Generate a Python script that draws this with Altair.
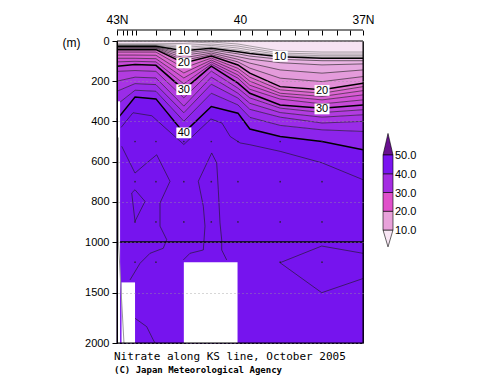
import altair as alt
import pandas as pd

# ---------------- data ----------------
station_lat = [43.0, 42.56, 42.05, 41.37, 40.70, 40.05, 39.76, 39.02, 38.0, 37.0]

# depth (m) of each isoline at every station
iso_2 = [14, 14, 14, 12, 5, 15, 25, 50, 55, 55]
iso_4 = [18, 18, 18, 22, 15, 25, 35, 60, 65, 65]
iso_6 = [21, 21, 21, 32, 22, 35, 45, 68, 73, 73]
iso_8 = [24, 24, 24, 40, 30, 45, 55, 74, 80, 80]
iso_10 = [26, 26, 26, 48, 36, 53, 62, 78, 86, 86]
iso_12 = [30, 30, 30, 60, 44, 64, 75, 91, 98, 98]
iso_14 = [33, 33, 33, 71, 52, 78, 90, 108, 119, 114]
iso_16 = [36, 36, 36, 84, 60, 91, 110, 144, 160, 144]
iso_18 = [40, 40, 40, 96, 68, 104, 135, 185, 202, 177]
iso_20 = [43, 43, 43, 109, 75, 119, 160, 227, 243, 210]
iso_22 = [55, 55, 55, 134, 85, 136, 180, 243, 260, 227]
iso_24 = [70, 70, 71, 159, 95, 152, 200, 260, 276, 247]
iso_26 = [86, 86, 88, 184, 105, 169, 220, 273, 293, 268]
iso_28 = [104, 101, 104, 213, 115, 185, 240, 289, 313, 293]
iso_30 = [126, 117, 121, 242, 125, 210, 260, 318, 334, 318]
iso_32 = [151, 147, 151, 283, 150, 235, 283, 334, 356, 342]
iso_34 = [200, 180, 184, 324, 180, 260, 310, 356, 379, 367]
iso_36 = [250, 212, 217, 357, 215, 284, 340, 379, 408, 400]
iso_38 = [316, 245, 250, 399, 260, 318, 380, 420, 442, 450]
iso_40 = [390, 279, 288, 457, 326, 359, 438, 475, 500, 541]

# deep thin contours (lat, depth)
deep_a_lat = [42.90, 42.61, 42.15, 41.83, 41.37, 40.71, 40.44, 40.24, 40.0, 39.76, 39.02, 38.0, 37.0]
deep_a_dep = [430, 357, 372, 431, 515, 388, 408, 475, 507, 516, 549, 606, 690]
deep_b_lat = [42.885, 42.561, 42.276, 42.032, 41.707, 41.951, 41.951, 41.788, 41.871, 42.195, 42.439, 42.683]
deep_b_dep = [524, 657, 607, 566, 698, 806, 921, 988, 1062, 1112, 1211, 1376]
deep_c_lat = [42.641, 42.561, 42.317, 42.561, 42.641]
deep_c_dep = [756, 740, 798, 897, 756]
deep_d_lat = [41.383, 41.22, 40.895, 40.854, 40.895, 41.017, 40.69, 40.568, 40.529, 40.488, 40.446, 40.446, 40.324]
deep_d_dep = [1178, 1112, 1079, 921, 822, 698, 557, 607, 740, 905, 990, 1079, 1178]
deep_e_lat = [37.0, 38.007, 39.024, 38.007, 37.0]
deep_e_dep = [1112, 1040, 1205, 1502, 1362]
deep_f_lat = [42.561, 42.276, 42.115, 42.073]
deep_f_dep = [1755, 1838, 1970, 2000]

# missing-data (white) areas
gap_lat0 = [43.0, 42.89, 41.37]
gap_lat1 = [42.925, 42.56, 40.06]
gap_top = [300, 1400, 1200]
gap_bot = [2000, 2000, 2000]

# bottom line near 43N
bathy_lat = [42.968, 42.968, 42.83]
bathy_dep = [480, 990, 2000]

# sample points
dot_lat = [42.56, 42.05, 41.37, 40.70, 40.05, 39.02, 38.0]
dot_dep = [500, 700, 900]
dot2_lat = [42.56, 42.05, 39.02, 38.0]
dot2_dep = [1200]

# contour labels
lbl_lat = [41.37, 39.02, 41.37, 38.0, 41.37, 38.0, 41.37]
lbl_dep = [46, 76, 109, 246, 242, 338, 457]
lbl_txt = ["10", "10", "20", "20", "30", "30", "40"]

# colour bar
leg_lo = [10, 20, 30, 40]
leg_hi = [20, 30, 40, 50]
leg_vals = [50, 40, 30, 20, 10]

# axis ticks
tick_lats = [43.0, 42.85, 42.75, 42.63, 42.54, 42.05, 41.71, 41.37, 41.05, 40.71,
             40.0, 39.71, 39.34, 39.02, 38.66, 38.34, 38.0, 37.63, 37.32, 37.0]
depth_ticks = [0, 200, 400, 600, 800, 1000, 1500, 2000]

# plot frame (domain corners)
frame_lat = [43.0, 37.0]
frame_dep = [0, 2000]

# ---------------- styles ----------------
band_colors = ["#f6e2f2", "#ecc2e8", "#e9b4e3", "#e6a8df", "#e49bdb", "#e28ed8",
               "#e175d3", "#dd68d2", "#d85dd3", "#d052d6", "#c84ad9",
               "#bc44dc", "#b23ce0", "#a834e4", "#9a2ce8", "#8c24ec", "#7614ee"]
leg_colors = ["#e8a2da", "#e050ca", "#a42ce2", "#7a14f0"]
tri_top_color = "#68108f"
tri_bot_color = "#f8e6f4"

# ---------------- tables ----------------
n = len(station_lat)
main_isos = [iso_10, iso_12, iso_14, iso_16, iso_18, iso_20, iso_22, iso_24,
             iso_26, iso_28, iso_30, iso_32, iso_34, iso_36, iso_38, iso_40]
main_levels = [10, 12, 14, 16, 18, 20, 22, 24, 26, 28, 30, 32, 34, 36, 38, 40]
bounds = [[0] * n] + main_isos + [[2000] * n]

band_rows = []
for b in range(len(bounds) - 1):
    for i in range(n):
        band_rows.append({"band": b, "lat": station_lat[i], "top": bounds[b][i],
                          "bot": bounds[b + 1][i], "col": band_colors[b]})
band_df = pd.DataFrame(band_rows)


def line_df(levels, isos):
    rows = []
    for lv, arr in zip(levels, isos):
        for i in range(n):
            rows.append({"level": lv, "lat": station_lat[i], "depth": arr[i]})
    return pd.DataFrame(rows)


grey_df = line_df([2, 4, 6, 8], [iso_2, iso_4, iso_6, iso_8])
thin_pairs = [(lv, a) for lv, a in zip(main_levels, main_isos) if lv % 10 != 0]
thin_df = line_df([p[0] for p in thin_pairs], [p[1] for p in thin_pairs])
thick_pairs = [(lv, a) for lv, a in zip(main_levels, main_isos) if lv % 10 == 0]
thick_df = line_df([p[0] for p in thick_pairs], [p[1] for p in thick_pairs])

deep_rows = []
for name, la, de in [("a", deep_a_lat, deep_a_dep), ("b", deep_b_lat, deep_b_dep),
                     ("c", deep_c_lat, deep_c_dep), ("d", deep_d_lat, deep_d_dep),
                     ("e", deep_e_lat, deep_e_dep), ("f", deep_f_lat, deep_f_dep)]:
    for k, (a, d) in enumerate(zip(la, de)):
        deep_rows.append({"id": name, "seq": k, "lat": a, "depth": d})
deep_df = pd.DataFrame(deep_rows)

gap_df = pd.DataFrame({"lat0": gap_lat0, "lat1": gap_lat1, "top": gap_top, "bot": gap_bot})
bathy_df = pd.DataFrame({"lat": bathy_lat, "depth": bathy_dep, "seq": list(range(len(bathy_lat)))})
dots = [{"lat": a, "depth": d} for a in dot_lat for d in dot_dep] + \
       [{"lat": a, "depth": d} for a in dot2_lat for d in dot2_dep]
dot_df = pd.DataFrame(dots)
lbl_df = pd.DataFrame({"lat": lbl_lat, "depth": lbl_dep, "txt": lbl_txt})
rule_df = pd.DataFrame({"depth": [1000]})
frame_df = pd.DataFrame({"lat0": [frame_lat[0]], "lat1": [frame_lat[1]],
                         "top": [frame_dep[0]], "bot": [frame_dep[1]]})

# ---------------- scales / axes ----------------
xs = alt.Scale(domain=[37, 43], reverse=True, nice=False, zero=False)
ys = alt.Scale(domain=[0, 1000, 2000], range=[0, 201, 302], nice=False, zero=False)

label_expr = ("abs(datum.value-43)<0.01 ? '43N' : abs(datum.value-40)<0.01 ? '40' : "
              "abs(datum.value-37)<0.01 ? '37N' : ''")
xaxis = alt.Axis(orient="top", values=tick_lats, labelExpr=label_expr, tickSize=5,
                 offset=6, domain=False, labelPadding=4, labelFontSize=12,
                 labelFlush=False, labelOverlap=False, grid=False, title=None)
yaxis = alt.Axis(orient="left", values=depth_ticks, format="d", tickSize=5, labelPadding=3,
                 labelFontSize=11, grid=True, gridDash=[1, 3], gridColor="#9a9a9a",
                 gridWidth=0.8, title="(m)", titleAngle=0, titleX=-55, titleY=1,
                 titleAlign="left", titleBaseline="middle", titleFontSize=12,
                 titleFontWeight="normal", labelOverlap=False, zindex=1)

areas = alt.Chart(band_df).mark_area(interpolate="linear", strokeWidth=0.5).encode(
    x=alt.X("lat:Q", scale=xs, axis=xaxis),
    y=alt.Y("top:Q", scale=ys, axis=yaxis),
    y2="bot:Q",
    fill=alt.Fill("col:N", scale=None),
    stroke=alt.Stroke("col:N", scale=None),
    detail="band:N",
)


def lines(df, color, width, extra=None):
    enc = dict(x=alt.X("lat:Q", scale=xs, axis=None),
               y=alt.Y("depth:Q", scale=ys, axis=None))
    if extra:
        enc.update(extra)
    return alt.Chart(df).mark_line(color=color, strokeWidth=width, interpolate="linear").encode(**enc)


grey_lines = lines(grey_df, "#6e6e6e", 0.6, {"detail": "level:N"})
thin_lines = lines(thin_df, "#1a1a1a", 0.6, {"detail": "level:N"})
deep_lines = lines(deep_df, "#1a1a1a", 0.6, {"detail": "id:N", "order": "seq:Q"})
thick_lines = lines(thick_df, "black", 1.5, {"detail": "level:N"})

rule1000 = alt.Chart(rule_df).mark_rule(color="black", strokeWidth=1.6).encode(
    y=alt.Y("depth:Q", scale=ys, axis=None))

gaps = alt.Chart(gap_df).mark_rect(color="white").encode(
    x=alt.X("lat0:Q", scale=xs, axis=None), x2="lat1:Q",
    y=alt.Y("top:Q", scale=ys, axis=None), y2="bot:Q")

bathy = lines(bathy_df, "#9a9a9a", 1.0, {"order": "seq:Q"})

dots_l = alt.Chart(dot_df).mark_point(filled=True, color="#222222", size=3, opacity=0.8).encode(
    x=alt.X("lat:Q", scale=xs, axis=None), y=alt.Y("depth:Q", scale=ys, axis=None))

frame = alt.Chart(frame_df).mark_rect(fillOpacity=0, stroke="black", strokeWidth=1).encode(
    x=alt.X("lat0:Q", scale=xs, axis=None), x2="lat1:Q",
    y=alt.Y("top:Q", scale=ys, axis=None), y2="bot:Q")

lbl_box = alt.Chart(lbl_df).mark_point(
    shape="M-1,-0.72L1,-0.72L1,0.72L-1,0.72Z", filled=True, color="white",
    size=225, opacity=1, strokeWidth=0).encode(
    x=alt.X("lat:Q", scale=xs, axis=None), y=alt.Y("depth:Q", scale=ys, axis=None))
lbl_txt_l = alt.Chart(lbl_df).mark_text(font="Liberation Sans", fontSize=11, color="black",
                                        baseline="middle", align="center", dy=0.5).encode(
    x=alt.X("lat:Q", scale=xs, axis=None), y=alt.Y("depth:Q", scale=ys, axis=None),
    text="txt:N")

top_line = alt.Chart(rule_df).mark_rule(color="black", strokeWidth=1).encode(
    x=alt.value(0), x2=alt.value(246), y=alt.value(-11))

# ---------------- colour bar ----------------
lxs = alt.Scale(domain=[0, 1], range=[266, 276], nice=False, zero=False)
lys = alt.Scale(domain=[0, 60], range=[207.75, 95.25], nice=False, zero=False)

box_df = pd.DataFrame({"lo": leg_lo, "hi": leg_hi, "col": leg_colors,
                       "x0": [0] * len(leg_lo), "x1": [1] * len(leg_lo)})
tri_df = pd.DataFrame({
    "tri": ["t", "t", "t", "b", "b", "b"],
    "tx": [0, 0.5, 1, 0, 0.5, 1],
    "ty": [50, 61.5, 50, 10, 1, 10],
    "ty2": [50, 50, 50, 10, 10, 10],
    "col": [tri_top_color] * 3 + [tri_bot_color] * 3,
})
val_df = pd.DataFrame({"v": leg_vals, "lx": [1.2] * len(leg_vals)})

boxes = alt.Chart(box_df).mark_rect(stroke="black", strokeWidth=0.6).encode(
    x=alt.X("x0:Q", scale=lxs, axis=None), x2="x1:Q",
    y=alt.Y("lo:Q", scale=lys, axis=None), y2="hi:Q",
    fill=alt.Fill("col:N", scale=None))
tris = alt.Chart(tri_df).mark_area(stroke="black", strokeWidth=0.6, interpolate="linear").encode(
    x=alt.X("tx:Q", scale=lxs, axis=None),
    y=alt.Y("ty:Q", scale=lys, axis=None), y2="ty2:Q",
    fill=alt.Fill("col:N", scale=None), detail="tri:N")
vals = alt.Chart(val_df).mark_text(align="left", baseline="middle", font="Liberation Sans",
                                   fontSize=11, color="black", dy=1).encode(
    x=alt.X("lx:Q", scale=lxs, axis=None), y=alt.Y("v:Q", scale=lys, axis=None),
    text=alt.Text("v:Q", format=".1f"))

chart = alt.layer(areas, grey_lines, thin_lines, deep_lines, thick_lines, rule1000,
                  gaps, bathy, dots_l, frame, lbl_box, lbl_txt_l, top_line,
                  tris, boxes, vals).resolve_scale(
    x="independent", y="independent").properties(
    width=246, height=302,
    autosize=alt.AutoSizeParams(type="none"),
    padding={"left": 109, "top": 33, "right": 129, "bottom": 36},
    title=alt.Title("Nitrate along KS line, October 2005",
                    subtitle="(C) Japan Meteorological Agency",
                    orient="bottom", anchor="start", frame="group",
                    font="DejaVu Sans Mono",
                    fontSize=11, fontWeight="normal", color="black",
                    subtitleFont="DejaVu Sans Mono", subtitleFontSize=9,
                    subtitleFontWeight="bold", subtitleColor="black",
                    offset=3, subtitlePadding=4, dx=-3),
).configure_view(stroke="black", strokeWidth=1).configure_axis(
    labelFont="Liberation Sans", titleFont="Liberation Sans", labelColor="black",
    titleColor="black", tickColor="black", domainColor="black")

chart.save("out.html", embed_options={"renderer": "svg", "actions": False})
